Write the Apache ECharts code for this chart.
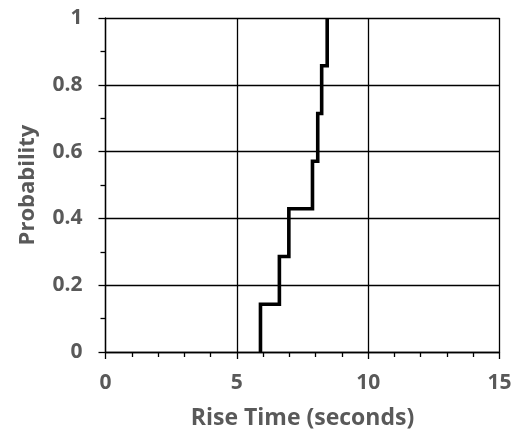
<!DOCTYPE html>
<html>
<head>
<meta charset="utf-8">
<script src="https://cdn.jsdelivr.net/npm/echarts@6/dist/echarts.min.js"></script>
<style>html,body{margin:0;padding:0;background:#fff;}#c{width:513px;height:429px;}</style>
</head>
<body>
<div id="c"></div>
<script>
// Jump locations of the empirical CDF (seconds)
var riseTimes = [5.9, 6.62, 6.98, 7.88, 8.08, 8.23, 8.44];
// Cumulative probability reached after each jump
var cumProb = [0.143, 0.286, 0.429, 0.571, 0.714, 0.857, 1];
var xTicks = [0, 5, 10, 15];
var yTicks = [0, 0.2, 0.4, 0.6, 0.8, 1];

// Step path vertices built from the arrays
var path = [];
for (var k = 0; k < riseTimes.length; k++) {
  path.push([riseTimes[k], k === 0 ? 0 : cumProb[k - 1]]);
  path.push([riseTimes[k], cumProb[k]]);
}

var font = 'Open Sans';
var gray = '#595959';
var chart = echarts.init(document.getElementById('c'), null, {renderer: 'canvas'});
chart.setOption({
  animation: false,
  grid: {left: 105.5, right: 13.5, top: 18, bottom: 77, containLabel: false, outerBoundsMode: 'none'},
  xAxis: {
    type: 'value', min: 0, max: 15, interval: 5,
    name: 'Rise Time (seconds)', nameLocation: 'middle', nameGap: 55,
    nameTextStyle: {color: gray, fontFamily: font, fontWeight: 'bold', fontSize: 23},
    axisLine: {show: true, onZero: false, lineStyle: {color: '#000', width: 1.3}},
    axisTick: {show: true, inside: false, length: 7, lineStyle: {color: '#000', width: 1.3}},
    minorTick: {show: true, splitNumber: 5, length: 5, lineStyle: {color: '#000', width: 1.3}},
    splitLine: {show: true, lineStyle: {color: '#000', width: 1.3}},
    axisLabel: {color: gray, fontFamily: font, fontWeight: 'bold', fontSize: 21, margin: 21,
      formatter: function (v) { return xTicks.indexOf(v) >= 0 ? String(v) : ''; }}
  },
  yAxis: {
    type: 'value', min: 0, max: 1, interval: 0.2,
    name: 'Probability', nameLocation: 'middle', nameGap: 67,
    nameTextStyle: {color: gray, fontFamily: font, fontWeight: 'bold', fontSize: 22},
    axisLine: {show: true, onZero: false, lineStyle: {color: '#000', width: 1.3}},
    axisTick: {show: true, inside: false, length: 7, lineStyle: {color: '#000', width: 1.3}},
    minorTick: {show: true, splitNumber: 2, length: 5, lineStyle: {color: '#000', width: 1.3}},
    splitLine: {show: true, lineStyle: {color: '#000', width: 1.3}},
    axisLabel: {color: gray, fontFamily: font, fontWeight: 'bold', fontSize: 21, margin: 23,
      formatter: function (v) {
        for (var i = 0; i < yTicks.length; i++) if (Math.abs(yTicks[i] - v) < 1e-9) return String(yTicks[i]);
        return '';
      }}
  },
  series: [{
    type: 'line', data: path, showSymbol: false, symbol: 'none',
    lineStyle: {color: '#000', width: 3.6, join: 'miter'},
    clip: false
  }]
});
</script>
</body>
</html>
